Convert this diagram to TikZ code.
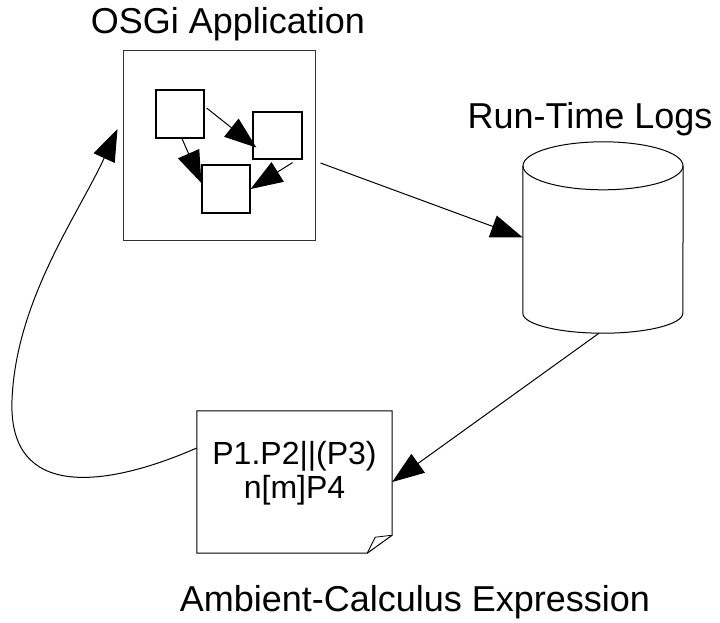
\documentclass[tikz,border=0pt]{standalone}
\usepackage{fontspec}
\setmainfont{Liberation Sans}
\usetikzlibrary{arrows.meta, calc}
\tikzset{
    frame/.style={rectangle, draw=black!80, line width=1pt, minimum width=192pt, minimum height=190pt, inner sep=0pt},
    bundle/.style={rectangle, draw=black, line width=1.2pt, minimum width=48pt, minimum height=48pt, inner sep=0pt},
    store/.style={rectangle, minimum width=160pt, minimum height=191pt, inner sep=0pt},
    sheet/.style={rectangle, minimum width=195pt, minimum height=142pt, inner sep=0pt},
    caption/.style={anchor=base, inner sep=0pt, font=\fontsize{36}{40}\selectfont},
    arrow/.style={line width=1pt, -{Triangle[length=32pt, width=23pt]}}
}
\begin{document}
\begin{tikzpicture}[
    x=1pt, y=-1pt,
    outline/.style={line width=1pt},
    codetext/.style={align=center, inner sep=0pt, font=\fontsize{32}{34}\selectfont}
]
    \useasboundingbox (0,0) rectangle (720,622);

    \node[frame] (osgi) at (219,145) {};
    \node[bundle] (b1) at (180,114) {};
    \node[bundle, minimum width=49pt, minimum height=47pt] (b2) at (277.5,135.5) {};
    \node[bundle] (b3) at (226,189) {};

    \node[store] (logs) at (603,237.5) {};
    \draw[outline] ([yshift=-24pt]logs.north) ellipse [x radius=80pt, y radius=24pt];
    \draw[outline] ([yshift=-24pt]logs.north west) -- ([yshift=20pt]logs.south west)
        arc[start angle=180, end angle=360, x radius=80pt, y radius=20pt]
        -- ([yshift=-24pt]logs.north east);

    \node[sheet] (expr) at (294.5,482) {};
    \draw[outline] (expr.north west) -- (expr.north east) -- ([yshift=18pt]expr.south east)
        -- ([xshift=-25pt]expr.south east) -- (expr.south west) -- cycle;
    \draw[line width=0.8pt] ([yshift=18pt]expr.south east) -- ([xshift=-17pt,yshift=16pt]expr.south east)
        -- ([xshift=-25pt]expr.south east);
    \node[codetext] (code) at ([yshift=9pt]expr.center) {P1.P2||(P3)\\n[m]P4};

    \node[caption] (osgilabel) at (228,33) {OSGi Application};
    \node[caption] (logslabel) at (590,128) {Run-Time Logs};
    \node[caption] (exprlabel) at (415,611) {Ambient-Calculus Expression};

    \draw[arrow] ([xshift=2pt,yshift=6pt]b1.east) -- ([xshift=4pt,yshift=12pt]b2.south west);
    \draw[arrow] ([xshift=2pt]b1.south) -- ([yshift=6pt]b3.west);
    \draw[arrow] ([xshift=15pt,yshift=-3pt]b2.south) -- (b3.east);
    \draw[arrow] ([xshift=5pt,yshift=-18pt]osgi.east) -- (logs.west);
    \draw[arrow] ([xshift=-4pt]logs.south) -- (expr.east);
    \draw[arrow] ([yshift=34pt]expr.west) .. controls (105,488) and (8,500) .. (12,400)
        .. controls (16,300) and (78,215) .. ([xshift=-5pt,yshift=16pt]osgi.west);
\end{tikzpicture}
\end{document}
